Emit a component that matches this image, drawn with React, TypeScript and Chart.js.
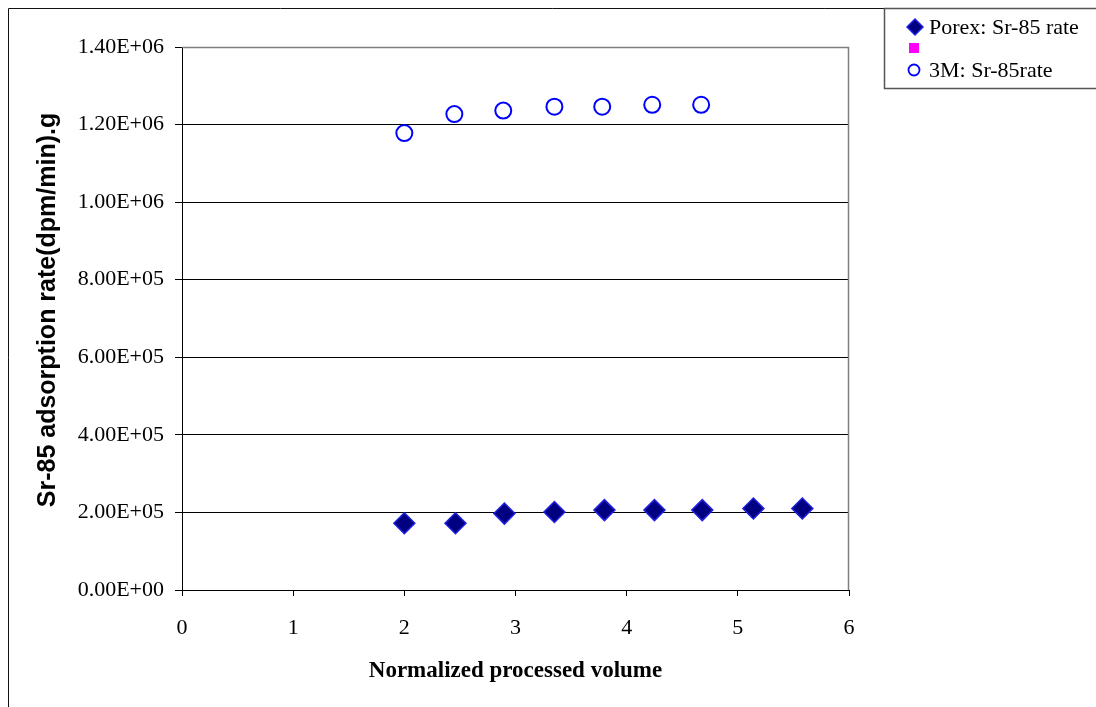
import React, { useEffect, useRef } from "react";
import { Chart, registerables } from "chart.js";

Chart.register(...registerables);

const porexX = [2.0, 2.46, 2.9, 3.35, 3.8, 4.25, 4.68, 5.14, 5.58];
const porexY = [1.72e5, 1.72e5, 1.97e5, 2.01e5, 2.06e5, 2.06e5, 2.06e5, 2.1e5, 2.1e5];
const m3X = [2.0, 2.45, 2.89, 3.35, 3.78, 4.23, 4.67];
const m3Y = [1.178e6, 1.227e6, 1.236e6, 1.246e6, 1.246e6, 1.251e6, 1.251e6];
const seriesLabels = ["Porex: Sr-85 rate", "", "3M: Sr-85rate"];
const xTitle = "Normalized processed volume";
const yTitle = "Sr-85 adsorption rate(dpm/min).g";

const W = 1096;
const H = 707;

function fmtExp(v: number): string {
  if (v === 0) return "0.00E+00";
  const e = Math.floor(Math.log10(Math.abs(v)) + 1e-9);
  const m = v / Math.pow(10, e);
  const sign = e < 0 ? "-" : "+";
  const ee = Math.abs(e).toString().padStart(2, "0");
  return m.toFixed(2) + "E" + sign + ee;
}

function drawMarker(ctx: CanvasRenderingContext2D, style: string, x: number, y: number, r: number, fill: string, stroke: string, lw: number) {
  ctx.save();
  ctx.beginPath();
  if (style === "rectRot") {
    ctx.moveTo(x - r, y);
    ctx.lineTo(x, y - r);
    ctx.lineTo(x + r, y);
    ctx.lineTo(x, y + r);
    ctx.closePath();
  } else if (style === "rect") {
    ctx.rect(x - r, y - r, 2 * r, 2 * r);
  } else {
    ctx.arc(x, y, r, 0, Math.PI * 2);
  }
  ctx.fillStyle = fill;
  ctx.fill();
  if (lw > 0) {
    ctx.lineWidth = lw;
    ctx.strokeStyle = stroke;
    ctx.stroke();
  }
  ctx.restore();
}

const framePlugin = {
  id: "framePlugin",
  afterDraw(chart: any) {
    const ctx: CanvasRenderingContext2D = chart.ctx;
    const ca = chart.chartArea;
    ctx.save();
    // plot area top/right border (gray)
    ctx.strokeStyle = "#808080";
    ctx.lineWidth = 1.5;
    ctx.beginPath();
    ctx.moveTo(ca.left, ca.top + 0.5);
    ctx.lineTo(ca.right - 0.5, ca.top + 0.5);
    ctx.lineTo(ca.right - 0.5, ca.bottom);
    ctx.stroke();
    // y axis title
    ctx.save();
    ctx.translate(48, 310);
    ctx.rotate(-Math.PI / 2);
    ctx.font = "bold 25px 'Liberation Sans', Arial, sans-serif";
    ctx.textAlign = "center";
    ctx.textBaseline = "middle";
    ctx.fillStyle = "#000";
    ctx.fillText(yTitle, 0, 0);
    ctx.restore();
    // outer chart border
    ctx.strokeStyle = "#111";
    ctx.lineWidth = 1;
    ctx.beginPath();
    ctx.moveTo(8.5, H);
    ctx.lineTo(8.5, 8.5);
    ctx.lineTo(W, 8.5);
    ctx.stroke();
    // legend box
    const lx = 884.5, ly = 8.5, lw = 230, lh = 80;
    ctx.fillStyle = "#fff";
    ctx.fillRect(lx, ly, lw, lh);
    ctx.strokeStyle = "#555";
    ctx.lineWidth = 1.5;
    ctx.strokeRect(lx, ly, lw, lh);
    ctx.font = "22px 'Liberation Serif', 'Times New Roman', serif";
    ctx.textBaseline = "middle";
    ctx.textAlign = "left";
    ctx.fillStyle = "#000";
    const rows = [27, 48, 70];
    chart.data.datasets.forEach((ds: any, i: number) => {
      const y = rows[i];
      const st = ds.pointStyle;
      if (st === "rectRot") drawMarker(ctx, st, 915, y, 8, ds.pointBackgroundColor, ds.pointBorderColor, 1.5);
      else if (st === "rect") drawMarker(ctx, st, 914, y, 5, ds.pointBackgroundColor, ds.pointBorderColor, 0);
      else drawMarker(ctx, st, 914, y, 5.5, "#fff", ds.pointBorderColor, 1.8);
      ctx.fillStyle = "#000";
      if (ds.label) ctx.fillText(ds.label, 929, y + 1);
    });
    ctx.restore();
  },
};

export default function App() {
  const ref = useRef<HTMLCanvasElement | null>(null);
  useEffect(() => {
    const canvas = ref.current;
    if (!canvas) return;
    const chart = new Chart(canvas, {
      type: "scatter",
      data: {
        datasets: [
          {
            label: seriesLabels[0],
            data: porexX.map((x, i) => ({ x, y: porexY[i] })),
            pointStyle: "rectRot",
            pointRadius: 10.5,
            pointBackgroundColor: "#000080",
            pointBorderColor: "#2020e0",
            pointBorderWidth: 1.5,
            showLine: false,
          },
          {
            label: seriesLabels[1],
            data: [],
            pointStyle: "rect",
            pointRadius: 5,
            pointBackgroundColor: "#ff00ff",
            pointBorderColor: "#ff00ff",
            showLine: false,
          },
          {
            label: seriesLabels[2],
            data: m3X.map((x, i) => ({ x, y: m3Y[i] })),
            pointStyle: "circle",
            pointRadius: 8,
            pointBackgroundColor: "rgba(255,255,255,0)",
            pointBorderColor: "#0000ff",
            pointBorderWidth: 2,
            showLine: false,
          },
        ],
      },
      options: {
        responsive: false,
        animation: false,
        devicePixelRatio: 1,
        layout: { padding: { left: 0, top: 47, right: W - 849, bottom: 0 } },
        plugins: {
          legend: { display: false },
          tooltip: { enabled: false },
        },
        scales: {
          x: {
            type: "linear",
            min: 0,
            max: 6,
            afterFit: (s: any) => { s.height = H - 590; },
            ticks: {
              stepSize: 1,
              color: "#000",
              padding: 19,
              font: { family: "'Liberation Serif', 'Times New Roman', serif", size: 22 },
            },
            grid: { drawOnChartArea: false, drawTicks: true, tickLength: 6, color: "#000" },
            border: { color: "#000", width: 1 },
            title: {
              display: true,
              text: xTitle,
              color: "#000",
              padding: { top: 0, bottom: 22 },
              font: { family: "'Liberation Serif', 'Times New Roman', serif", size: 23, weight: "bold" },
            },
          },
          y: {
            type: "linear",
            min: 0,
            max: 1.4e6,
            afterFit: (s: any) => { s.width = 182; },
            ticks: {
              stepSize: 2e5,
              color: "#000",
              padding: 11,
              callback: (v: any) => fmtExp(Number(v)),
              font: { family: "'Liberation Serif', 'Times New Roman', serif", size: 22 },
            },
            grid: { color: "#000", lineWidth: 1, drawTicks: true, tickLength: 7, tickColor: "#000" },
            border: { color: "#000", width: 1 },
            title: { display: false },
          },
        },
      },
      plugins: [framePlugin],
    } as any);
    return () => chart.destroy();
  }, []);
  return (
    <div style={{ position: "absolute", left: 0, top: 0, width: W, height: H, background: "#fff" }}>
      <canvas ref={ref} width={W} height={H} style={{ display: "block", width: W, height: H }} />
    </div>
  );
}
